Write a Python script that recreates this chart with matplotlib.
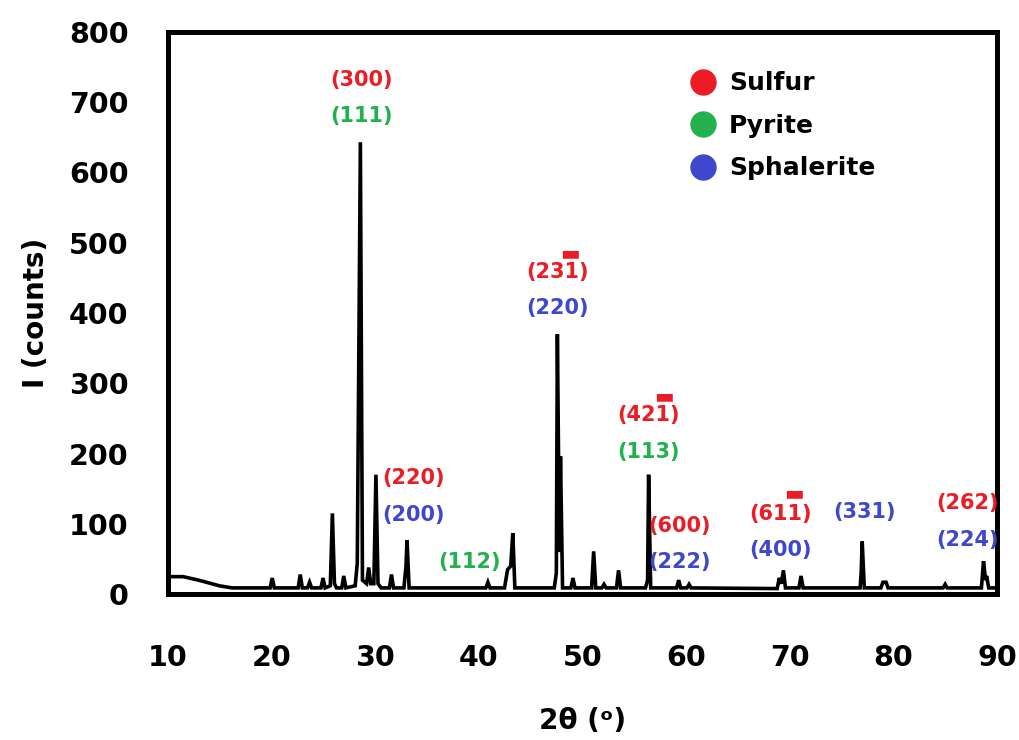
import numpy as np
import matplotlib.pyplot as plt
from matplotlib.lines import Line2D

# XRD pattern vertices (2theta, counts)
two_theta = [10.0, 11.5, 13.0, 15.0, 16.2, 19.9, 20.1, 20.3, 22.6, 22.8, 23.0, 23.5, 23.7, 23.9,
             24.8, 25.0, 25.2, 25.7, 25.9, 26.1, 26.3, 26.8, 27.0, 27.2, 28.1, 28.3, 28.6, 28.8,
             29.2, 29.4, 29.6, 29.9, 30.1, 30.3, 30.6, 31.4, 31.6, 31.8, 32.8, 33.0, 33.1, 33.3,
             40.7, 40.9, 41.1, 42.5, 42.8, 43.1, 43.3, 43.5, 47.3, 47.5, 47.6, 47.8, 47.9, 48.1,
             48.9, 49.1, 49.3, 50.9, 51.1, 51.3, 51.9, 52.1, 52.3, 53.3, 53.5, 53.7, 56.1, 56.3,
             56.4, 56.6, 59.1, 59.3, 59.5, 60.1, 60.3, 60.5, 68.8, 69.0, 69.2, 69.4, 69.6, 70.9,
             71.1, 71.3, 76.8, 76.9, 77.0, 77.2, 78.8, 79.0, 79.3, 79.5, 84.8, 85.0, 85.2, 88.5,
             88.7, 88.9, 89.0, 89.2, 90.0]
counts = [25, 25, 20, 12, 9, 9, 23, 9, 9, 28, 9, 9, 17, 9,
          9, 23, 9, 12, 115, 15, 9, 9, 26, 9, 12, 44, 643, 20,
          15, 38, 15, 15, 170, 15, 9, 9, 28, 9, 9, 40, 77, 9,
          9, 17, 9, 9, 35, 40, 87, 9, 9, 30, 370, 60, 196, 9,
          9, 23, 9, 9, 61, 9, 9, 14, 9, 9, 34, 9, 9, 20,
          170, 9, 9, 20, 9, 9, 14, 9, 8, 23, 15, 34, 9, 9,
          26, 9, 9, 30, 75, 9, 9, 17, 17, 9, 9, 14, 9, 9,
          47, 20, 26, 9, 9]

# peak labels: text, colour key, position
hkl_text = ['(300)', '(111)', '(220)', '(200)', '(112)', '(231)', '(220)', '(421)', '(113)',
            '(600)', '(222)', '(611)', '(400)', '(331)', '(262)', '(224)']
hkl_phase = ['S', 'P', 'S', 'Z', 'P', 'S', 'Z', 'S', 'P', 'S', 'Z', 'S', 'Z', 'Z', 'S', 'Z']
hkl_x = [28.7, 28.7, 33.7, 33.7, 39.1, 47.6, 47.6, 56.4, 56.4, 59.4, 59.4, 69.1, 69.1, 77.2, 87.2, 87.2]
hkl_y = [732, 680, 165, 112, 46, 458, 407, 255, 202, 97, 46, 114, 63, 117, 130, 77]

# negative index bars over the last digit
bar_x = [48.85, 57.9, 70.4]
bar_y = [485, 282, 144]

phases = ['Sulfur', 'Pyrite', 'Sphalerite']
colors = {'S': '#ED1C24', 'P': '#22B14C', 'Z': '#3F48CC'}

plt.rcParams['font.family'] = 'DejaVu Sans'
plt.rcParams['font.weight'] = 'bold'

fig = plt.figure(figsize=(10.19, 7.40), dpi=100)
ax = fig.add_axes([0.1644, 0.197, 0.8140, 0.760])

ax.plot(two_theta, counts, color='black', lw=2.6, solid_joinstyle='miter')

for t, p, x, y in zip(hkl_text, hkl_phase, hkl_x, hkl_y):
    ax.text(x, y, t, color=colors[p], fontsize=15, fontweight='bold', ha='center', va='center')
for x, y in zip(bar_x, bar_y):
    ax.text(x, y, '\u25ac', color=colors['S'], fontsize=15, ha='center', va='center')

handles = [Line2D([], [], ls='', marker='o', ms=18, color=colors[k]) for k in ['S', 'P', 'Z']]
ax.legend(handles, phases, loc='upper left', bbox_to_anchor=(0.612, 0.952), frameon=False,
          fontsize=18, labelspacing=0.74, handletextpad=0.45, handlelength=1.2, borderpad=0)

ax.set_xlim(10, 90)
ax.set_ylim(0, 800)
ax.set_xticks(np.arange(10, 91, 10))
ax.set_yticks(np.arange(0, 801, 100))
ax.tick_params(length=0, labelsize=20.5)
ax.tick_params(axis='y', pad=28)
ax.tick_params(axis='x', pad=36)
for s in ax.spines.values():
    s.set_linewidth(3.6)

ax.set_ylabel('I (counts)', fontsize=20, fontweight='bold', labelpad=14)
ax.set_xlabel('2\u03b8 (\u1d52)', fontsize=20, fontweight='bold', labelpad=25)

fig.savefig('out.png', dpi=100)
